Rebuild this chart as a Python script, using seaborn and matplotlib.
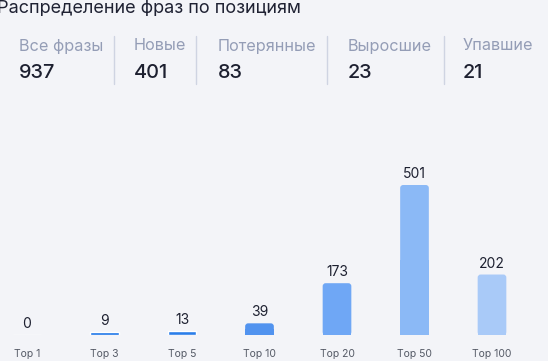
import matplotlib
matplotlib.use("Agg")
import matplotlib.pyplot as plt
import seaborn as sns
import pandas as pd
from matplotlib.patches import FancyBboxPatch

categories = ["Top 1", "Top 3", "Top 5", "Top 10", "Top 20", "Top 50", "Top 100"]
values = [0, 9, 13, 39, 173, 501, 202]
bar_colors = ["#1a73e8", "#1a73e8", "#2b7ee9", "#5193ef", "#6fa7f5", "#8bb9f6", "#a9caf8"]

stat_labels = ["Все фразы", "Новые", "Потерянные", "Выросшие", "Упавшие"]
stat_values = ["937", "401", "83", "23", "21"]
title = "Распределение фраз по позициям"

BG = "#f3f4f8"
W, H = 548, 361

sns.set_theme(style="white")
plt.rcParams["font.family"] = ["Inter", "DejaVu Sans"]

fig = plt.figure(figsize=(W / 100, H / 100), dpi=100, facecolor=BG)

# Header texts
fig.text(-3 / W, 1 - 8 / H, title, fontsize=13, color="#1f2233", va="center", ha="left")
stat_x = [19, 134, 218, 348, 463]
for x, lab, val in zip(stat_x, stat_labels, stat_values):
    fig.text(x / W, 1 - 46 / H, lab, fontsize=11.7, color="#949db6", va="center", ha="left")
    fig.text(x / W, 1 - 72.5 / H, val, fontsize=14.3, color="#1d2030", va="center", ha="left",
             fontweight="medium")
for dx in [114, 196, 327, 444]:
    fig.add_artist(plt.Line2D([dx / W, dx / W], [1 - 36 / H, 1 - 84 / H],
                              color="#cfd4e2", lw=1, transform=fig.transFigure))

# Bar axes
base_px = 335
top_px = 150
ax = fig.add_axes([0, (H - base_px) / H, 1, (base_px - top_px) / H])
ax.set_facecolor(BG)
df = pd.DataFrame({"cat": categories, "val": values})
sns.barplot(data=df, x="cat", y="val", hue="cat", palette=bar_colors, legend=False,
            width=0.37, ax=ax, saturation=1)

x0, step = 27, 77.5
ax.set_xlim(-x0 / step, (W - x0) / step)
ymax = 501 * (base_px - top_px) / 150
ax.set_ylim(0, ymax)

# rounded tops
px_per_x = step
px_per_y = (base_px - top_px) / ymax
for p in list(ax.patches):
    h = p.get_height()
    if h * px_per_y < 8:
        continue
    xl, w = p.get_x(), p.get_width()
    fc = p.get_facecolor()
    p.remove()
    r = 3 / px_per_x
    fb = FancyBboxPatch((xl, 0), w, h, boxstyle=f"round,pad=0,rounding_size={r}",
                        mutation_aspect=px_per_x / px_per_y, facecolor=fc, edgecolor="none")
    ax.add_patch(fb)
    ax.add_patch(plt.Rectangle((xl, 0), w, h / 2, facecolor=fc, edgecolor="none"))

for i, v in enumerate(values):
    ax.text(i, v + 4 / px_per_y, str(v), ha="center", va="bottom", fontsize=10, color="#1d2030")

ax.set_xlabel("")
ax.set_ylabel("")
ax.set_yticks([])
ax.tick_params(axis="x", length=0, pad=10, labelsize=7.5, labelcolor="#555a66")
for s in ax.spines.values():
    s.set_visible(False)

fig.savefig("out.png", dpi=100, facecolor=BG)
